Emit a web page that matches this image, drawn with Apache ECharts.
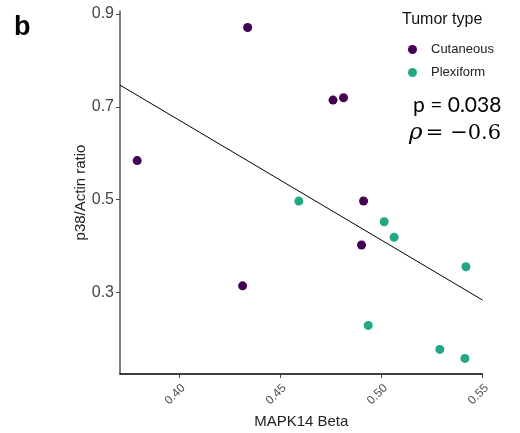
<!DOCTYPE html>
<html>
<head>
<meta charset="utf-8">
<script src="https://cdn.jsdelivr.net/npm/echarts@6/dist/echarts.min.js"></script>
<style>
  html, body { margin: 0; padding: 0; background: #fff; }
  #chart { width: 520px; height: 433px; }
</style>
</head>
<body>
<div id="chart"></div>
<script>
// MAPK14 beta vs p38/Actin ratio
const cutaneousX = [0.4339, 0.3793, 0.4314, 0.4761, 0.4813, 0.4912, 0.4902];
const cutaneousY = [0.871, 0.584, 0.314, 0.7145, 0.7194, 0.497, 0.402];
const plexiformX = [0.4592, 0.5014, 0.5063, 0.5418, 0.4935, 0.5289, 0.5413];
const plexiformY = [0.4968, 0.4523, 0.4187, 0.3552, 0.2288, 0.177, 0.1576];
// fitted line end points
const fitX = [0.3708, 0.55];
const fitY = [0.7468, 0.2834];
const xTicks = [0.40, 0.45, 0.50, 0.55];
const yTicks = [0.3, 0.5, 0.7, 0.9];

const zip = (xs, ys) => xs.map((x, i) => [x, ys[i]]);

const chart = echarts.init(document.getElementById('chart'), null, {renderer: 'canvas'});

chart.setOption({
    animation: false,
    textStyle: {fontFamily: 'Liberation Sans, Arial, sans-serif'},
    grid: {left: 120, right: 37.5, top: 11, bottom: 59, outerBoundsMode: 'none', containLabel: false},
    xAxis: {
        type: 'value',
        min: 0.3708,
        max: 0.55,
        name: 'MAPK14 Beta',
        nameLocation: 'middle',
        nameGap: 40,
        nameMoveOverlap: false,
        nameTextStyle: {fontSize: 15, color: '#222'},
        splitLine: {show: false},
        axisLine: {lineStyle: {color: '#000', width: 1.5}},
        axisTick: {show: true, customValues: xTicks, length: 4, lineStyle: {color: '#444'}},
        axisLabel: {
            customValues: xTicks,
            rotate: 45,
            fontSize: 12,
            color: '#4d4d4d',
            margin: 8,
            verticalAlign: 'top',
            formatter: v => v.toFixed(2)
        }
    },
    yAxis: {
        type: 'value',
        min: 0.124,
        max: 0.9065,
        name: 'p38/Actin ratio',
        nameLocation: 'middle',
        nameGap: 32,
        nameMoveOverlap: false,
        nameTextStyle: {fontSize: 15, color: '#222'},
        splitLine: {show: false},
        axisLine: {show: true, lineStyle: {color: '#555', width: 1.5}},
        axisTick: {show: true, customValues: yTicks, length: 4, lineStyle: {color: '#444'}},
        axisLabel: {
            customValues: yTicks,
            fontSize: 16,
            color: '#444',
            margin: 6,
            formatter: v => v.toFixed(1)
        }
    },
    legend: {
        orient: 'vertical',
        left: 403,
        top: 38,
        itemWidth: 27,
        itemHeight: 9,
        itemGap: 10,
        icon: 'circle',
        textStyle: {fontSize: 13, color: '#222'},
        data: ['Cutaneous', 'Plexiform']
    },
    graphic: [
        {type: 'text', left: 14, top: 14, style: {text: 'b', fontSize: 27, fontWeight: 'bold', fill: '#000', fontFamily: 'Liberation Sans'}},
        {type: 'text', left: 402, top: 12, style: {text: 'Tumor type', fontSize: 16, fill: '#111', fontFamily: 'Liberation Sans'}},
        {type: 'text', left: 413, top: 95, style: {text: 'p = 0.038', fontSize: 21, fill: '#000', fontFamily: 'Lato, Open Sans'}},
        {type: 'text', left: 409, top: 122, style: {
            text: '{r|ρ} {n|= −0.6}',
            rich: {
                r: {fontSize: 23, fontStyle: 'italic', fontFamily: 'DejaVu Serif', fill: '#000'},
                n: {fontSize: 21, fontFamily: 'DejaVu Serif', fill: '#000'}
            }
        }}
    ],
    series: [
        {
            name: 'fit',
            type: 'line',
            data: zip(fitX, fitY),
            symbol: 'none',
            silent: true,
            lineStyle: {color: '#000', width: 1},
            z: 1
        },
        {
            name: 'Cutaneous',
            type: 'scatter',
            data: zip(cutaneousX, cutaneousY),
            symbolSize: 9,
            itemStyle: {color: '#440154', opacity: 1},
            z: 3
        },
        {
            name: 'Plexiform',
            type: 'scatter',
            data: zip(plexiformX, plexiformY),
            symbolSize: 9,
            itemStyle: {color: '#22A884', opacity: 1},
            z: 3
        }
    ]
});
</script>
</body>
</html>
